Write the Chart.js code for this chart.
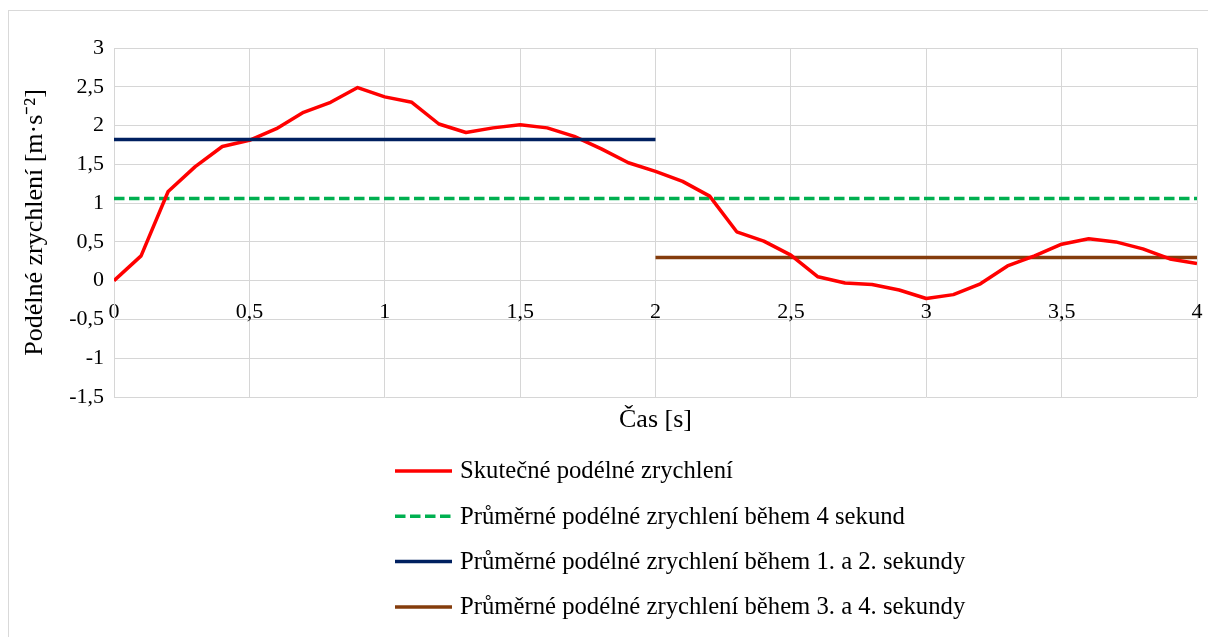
<!DOCTYPE html>
<html lang="cs">
<head>
<meta charset="utf-8">
<title>Podélné zrychlení</title>
<script src="https://cdn.jsdelivr.net/npm/chart.js@4.4.1/dist/chart.umd.min.js"></script>
<style>
  html, body { margin: 0; padding: 0; background: #fff; }
  canvas { display: block; }
</style>
</head>
<body>
<canvas id="graf" width="1208" height="637"></canvas>
<script>
// Čas měření [s], krok 0,1 s
const cas = [
  0, 0.1, 0.2, 0.3, 0.4, 0.5, 0.6, 0.7, 0.8, 0.9,
  1, 1.1, 1.2, 1.3, 1.4, 1.5, 1.6, 1.7, 1.8, 1.9,
  2, 2.1, 2.2, 2.3, 2.4, 2.5, 2.6, 2.7, 2.8, 2.9,
  3, 3.1, 3.2, 3.3, 3.4, 3.5, 3.6, 3.7, 3.8, 3.9, 4
];

// Naměřené podélné zrychlení [m·s-2]
const skutecneZrychleni = [
  0, 0.32, 1.15, 1.47, 1.73, 1.81, 1.96, 2.17, 2.30, 2.49,
  2.37, 2.30, 2.02, 1.91, 1.97, 2.01, 1.97, 1.86, 1.70, 1.52,
  1.41, 1.28, 1.09, 0.63, 0.51, 0.33, 0.05, -0.03, -0.05, -0.12,
  -0.23, -0.18, -0.04, 0.19, 0.32, 0.47, 0.54, 0.50, 0.41, 0.28, 0.22
];

// Průměry - začátek a konec intervalu + hodnota
const casCelkem = [0, 4];
const prumerCelkem = [1.06, 1.06];
const casPrvniDve = [0, 2];
const prumerPrvniDve = [1.82, 1.82];
const casDalsiDve = [2, 4];
const prumerDalsiDve = [0.30, 0.30];

const PISMO = '"Liberation Serif", "Times New Roman", serif';
const MRIZKA = '#d6d6d6';

function body(xs, ys) {
  return xs.map((x, i) => ({ x: x, y: ys[i] }));
}

function carka(v) {
  return String(v).replace('.', ',');
}

// Bílé pozadí a rámeček kolem celého grafu
const pozadi = {
  id: 'pozadi',
  beforeDraw(chart) {
    const ctx = chart.ctx;
    ctx.save();
    ctx.fillStyle = '#fff';
    ctx.fillRect(0, 0, chart.width, chart.height);
    ctx.strokeStyle = '#d9d9d9';
    ctx.lineWidth = 1;
    ctx.strokeRect(8.5, 10.5, chart.width + 20, chart.height + 20);
    ctx.restore();
  }
};

// Legenda pod grafem, jedna položka na řádek
const legendaPodGrafem = {
  id: 'legendaPodGrafem',
  afterDraw(chart) {
    const ctx = chart.ctx;
    ctx.save();
    ctx.font = '24.7px ' + PISMO;
    ctx.textBaseline = 'middle';
    ctx.textAlign = 'left';
    chart.data.datasets.forEach((ds, i) => {
      const y = 471 + i * 45.3;
      ctx.beginPath();
      ctx.strokeStyle = ds.borderColor;
      ctx.lineWidth = ds.borderWidth;
      ctx.setLineDash(ds.borderDash || []);
      ctx.moveTo(395, y);
      ctx.lineTo(452, y);
      ctx.stroke();
      ctx.setLineDash([]);
      ctx.fillStyle = '#000';
      ctx.fillText(ds.label, 460, y + 1);
    });
    ctx.restore();
  }
};

const ctx = document.getElementById('graf').getContext('2d');

new Chart(ctx, {
  type: 'line',
  data: {
    datasets: [
      {
        label: 'Skutečné podélné zrychlení',
        data: body(cas, skutecneZrychleni),
        borderColor: '#ff0000',
        borderWidth: 3.5,
        borderJoinStyle: 'round',
        pointRadius: 0,
        tension: 0,
        order: 1
      },
      {
        label: 'Průměrné podélné zrychlení během 4 sekund',
        data: body(casCelkem, prumerCelkem),
        borderColor: '#00b050',
        borderWidth: 3.5,
        borderDash: [10.5, 4.5],
        pointRadius: 0,
        order: 2
      },
      {
        label: 'Průměrné podélné zrychlení během 1. a 2. sekundy',
        data: body(casPrvniDve, prumerPrvniDve),
        borderColor: '#002060',
        borderWidth: 3.5,
        pointRadius: 0,
        order: 0
      },
      {
        label: 'Průměrné podélné zrychlení během 3. a 4. sekundy',
        data: body(casDalsiDve, prumerDalsiDve),
        borderColor: '#843c0c',
        borderWidth: 3.5,
        pointRadius: 0,
        order: 2
      }
    ]
  },
  options: {
    responsive: false,
    animation: false,
    events: [],
    layout: {
      padding: { top: 48, right: 11, bottom: 200.8, left: 0 }
    },
    plugins: {
      legend: { display: false },
      tooltip: { enabled: false }
    },
    scales: {
      x: {
        type: 'linear',
        position: { y: 0 },
        min: 0,
        max: 4,
        grid: { color: MRIZKA, drawTicks: false },
        border: { color: MRIZKA },
        ticks: {
          stepSize: 0.5,
          autoSkip: false,
          maxRotation: 0,
          padding: 18,
          color: '#000',
          font: { family: PISMO, size: 22 },
          callback: (v) => carka(v)
        },
        // odsazení popisků nemá zužovat plochu grafu
        afterFit(scale) {
          scale.paddingLeft = 0;
          scale.paddingRight = 0;
        }
      },
      x2: {
        type: 'linear',
        axis: 'x',
        position: 'bottom',
        min: 0,
        max: 4,
        grid: { display: false, drawTicks: false },
        border: { display: false },
        ticks: { display: false },
        title: {
          display: true,
          text: 'Čas [s]',
          color: '#000',
          font: { family: PISMO, size: 26 },
          padding: { top: 8, bottom: 0 }
        }
      },
      y: {
        min: -1.5,
        max: 3,
        grid: { color: MRIZKA, drawTicks: false },
        border: { color: MRIZKA },
        ticks: {
          stepSize: 0.5,
          padding: 10,
          color: '#000',
          font: { family: PISMO, size: 22 },
          callback: (v) => carka(v)
        },
        title: {
          display: true,
          text: 'Podélné zrychlení [m·s⁻²]',
          color: '#000',
          font: { family: PISMO, size: 26 },
          padding: { top: 20, bottom: 0 }
        },
        afterFit(scale) {
          scale.width = 114;
        }
      }
    }
  },
  plugins: [pozadi, legendaPodGrafem]
});
</script>
</body>
</html>
